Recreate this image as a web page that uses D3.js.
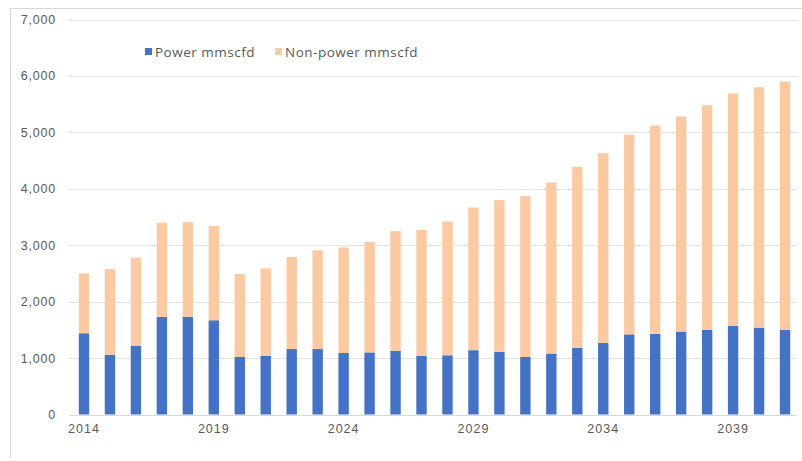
<!DOCTYPE html>
<html>
<head>
<meta charset="utf-8">
<script src="https://cdn.jsdelivr.net/npm/d3@7"></script>
<style>
  html, body { margin: 0; padding: 0; background: #fff; }
  svg { display: block; font-family: "Open Sans", "Noto Sans", sans-serif; }
</style>
</head>
<body>
<svg id="chart" width="802" height="461"></svg>
<script>
// Gas demand by year, split into power and non-power use (mmscfd)
const years = d3.range(2014, 2042);
const power = [1440, 1060, 1220, 1730, 1730, 1670, 1020, 1040, 1160, 1160,
               1090, 1100, 1130, 1040, 1050, 1140, 1110, 1020, 1080, 1180,
               1270, 1420, 1430, 1470, 1500, 1570, 1540, 1500];
const nonPower = [1060, 1520, 1560, 1670, 1680, 1670, 1470, 1550, 1630, 1750,
                  1870, 1960, 2120, 2230, 2370, 2530, 2690, 2850, 3030, 3210,
                  3360, 3540, 3690, 3810, 3980, 4120, 4260, 4400];
const seriesNames = ["Power mmscfd", "Non-power mmscfd"];
const seriesColors = ["#4472c4", "#fbcaa2"];
const yTicks = [0, 1000, 2000, 3000, 4000, 5000, 6000, 7000];
const xTickYears = [2014, 2019, 2024, 2029, 2034, 2039];

const svg = d3.select("#chart");
const W = 802, H = 461;
const margin = { left: 71, right: 4, top: 19.5, bottom: 46.5 };

// Outer frame (top and left edges visible)
svg.append("line").attr("x1", 10).attr("x2", W).attr("y1", 8.5).attr("y2", 8.5)
  .attr("stroke", "#d9d9d9").attr("stroke-width", 1.2);
svg.append("line").attr("x1", 10.5).attr("x2", 10.5).attr("y1", 8).attr("y2", 458)
  .attr("stroke", "#d9d9d9").attr("stroke-width", 1.2);

const x = d3.scaleBand()
  .domain(years)
  .range([margin.left, W - margin.right])
  .paddingInner(0.6)
  .paddingOuter(0.3);

const y = d3.scaleLinear()
  .domain([0, 7000])
  .range([H - margin.bottom, margin.top]);

// Horizontal gridlines
svg.append("g")
  .selectAll("line")
  .data(yTicks)
  .join("line")
  .attr("x1", margin.left - 2)
  .attr("x2", W - 5)
  .attr("y1", d => Math.round(y(d)) + 0.5)
  .attr("y2", d => Math.round(y(d)) + 0.5)
  .attr("stroke", "#e3e3e3")
  .attr("stroke-width", 1);

// Y axis labels
const yAxis = d3.axisLeft(y)
  .tickValues(yTicks)
  .tickFormat(d3.format(","))
  .tickSize(0)
  .tickPadding(0);
const gy = svg.append("g")
  .attr("transform", `translate(${56},0)`)
  .call(yAxis);
gy.select(".domain").remove();
gy.selectAll("text")
  .attr("fill", "#595959")
  .style("font-size", "12.5px")
  .style("letter-spacing", "0.8px");

// Stacked bars
const rows = years.map((yr, i) => ({ year: yr, power: power[i], nonPower: nonPower[i] }));
const stack = d3.stack().keys(["power", "nonPower"]);
const layers = stack(rows);

svg.append("g")
  .selectAll("g")
  .data(layers)
  .join("g")
  .attr("fill", (d, i) => seriesColors[i])
  .selectAll("rect")
  .data(d => d)
  .join("rect")
  .attr("x", d => x(d.data.year))
  .attr("width", x.bandwidth())
  .attr("y", d => y(d[1]))
  .attr("height", d => y(d[0]) - y(d[1]));

// Baseline
svg.append("line")
  .attr("x1", margin.left - 2).attr("x2", W - 5)
  .attr("y1", Math.round(y(0)) + 0.5).attr("y2", Math.round(y(0)) + 0.5)
  .attr("stroke", "#d9d9d9");

// X axis labels
const xAxis = d3.axisBottom(x)
  .tickValues(xTickYears)
  .tickSize(0)
  .tickPadding(10);
const gx = svg.append("g")
  .attr("transform", `translate(0,${y(0)})`)
  .call(xAxis);
gx.select(".domain").remove();
gx.selectAll("text")
  .attr("fill", "#595959")
  .style("font-size", "12.5px")
  .style("letter-spacing", "1px");

// Legend
const legend = svg.append("g").attr("transform", "translate(145,52)");
const legendX = [0, 130];
seriesNames.forEach((name, i) => {
  const g = legend.append("g").attr("transform", `translate(${legendX[i]},0)`);
  g.append("rect").attr("x", 0).attr("y", -4).attr("width", 7).attr("height", 7)
    .attr("fill", seriesColors[i]);
  g.append("text").attr("x", 10).attr("y", 0).attr("dy", "0.35em")
    .attr("fill", "#595959")
    .style("font-size", "13.5px")
    .style("letter-spacing", "0.5px")
    .text(name);
});
</script>
</body>
</html>
